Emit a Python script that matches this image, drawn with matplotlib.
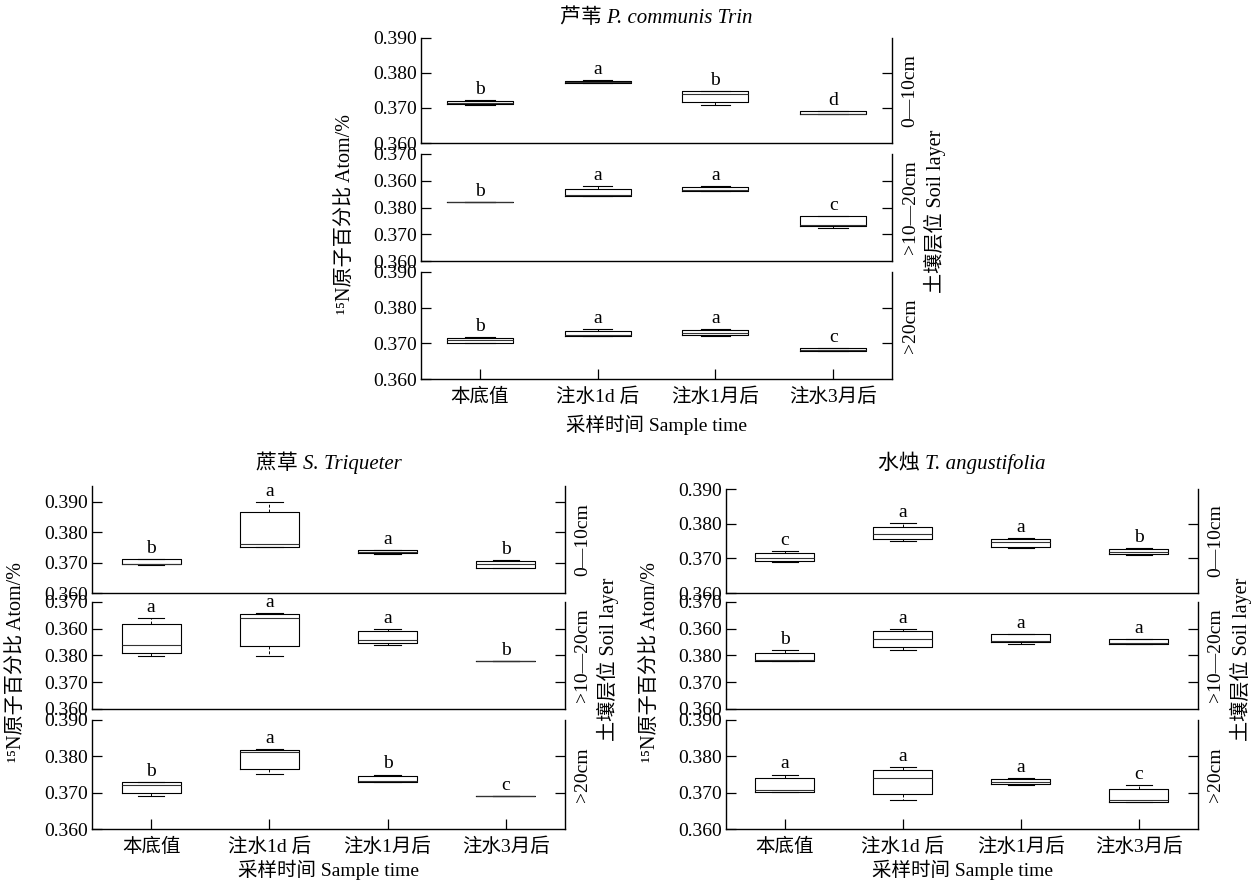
import matplotlib
matplotlib.use('Agg')
import matplotlib.pyplot as plt

plt.rcParams['font.family'] = ['Liberation Serif', 'Noto Sans CJK SC', 'DejaVu Serif']
plt.rcParams['font.size'] = 14

# ---------------- data ----------------
categories = ['本底值', '注水1d 后', '注水1月后', '注水3月后']
layers = ['0—10cm', '>10—20cm', '>20cm']
titles = ['芦苇 P. communis Trin', '蔗草 S. Triqueter', '水烛 T. angustifolia']
ylabel = '¹⁵N原子百分比 Atom/%'
xlabel = '采样时间 Sample time'
rlabel = '土壤层位 Soil layer'

# tick values / labels
ticks_3 = [0.360, 0.370, 0.380, 0.390]
ticklabels_3 = ['0.360', '0.370', '0.380', '0.390']
ticks_mid = [0.360, 0.370, 0.380, 0.390, 0.400]
ticklabels_mid = ['0.360', '0.370', '0.380', '0.360', '0.370']

# box statistics per category: (whislo, q1, median, q3, whishi)
reed_l1 = [(0.3710, 0.3712, 0.3715, 0.3720, 0.3722),
           (0.3770, 0.3771, 0.3773, 0.3777, 0.3779),
           (0.3710, 0.3718, 0.3740, 0.3748, 0.3749),
           (0.3682, 0.3682, 0.3684, 0.3691, 0.3691)]
reed_l2 = [(0.3821, 0.3821, 0.3821, 0.3821, 0.3821),
           (0.3843, 0.3843, 0.3845, 0.3871, 0.3882),
           (0.3861, 0.3861, 0.3866, 0.3878, 0.3882),
           (0.3723, 0.3731, 0.3735, 0.3768, 0.3768)]
reed_l3 = [(0.3700, 0.3701, 0.3709, 0.3716, 0.3718),
           (0.3720, 0.3720, 0.3722, 0.3735, 0.3740),
           (0.3720, 0.3722, 0.3729, 0.3737, 0.3740),
           (0.3679, 0.3679, 0.3681, 0.3687, 0.3688)]
reed_letters = [['b', 'a', 'b', 'd'], ['b', 'a', 'a', 'c'], ['b', 'a', 'a', 'c']]

sedge_l1 = [(0.3693, 0.3695, 0.3695, 0.3712, 0.3712),
            (0.3750, 0.3752, 0.3760, 0.3865, 0.3899),
            (0.3729, 0.3733, 0.3735, 0.3742, 0.3742),
            (0.3683, 0.3683, 0.3694, 0.3706, 0.3710)]
sedge_l2 = [(0.3798, 0.3808, 0.3840, 0.3916, 0.3941),
            (0.3798, 0.3835, 0.3941, 0.3956, 0.3960),
            (0.3840, 0.3845, 0.3859, 0.3890, 0.3899),
            (0.3778, 0.3778, 0.3778, 0.3778, 0.3778)]
sedge_l3 = [(0.3690, 0.3698, 0.3720, 0.3728, 0.3729),
            (0.3751, 0.3765, 0.3811, 0.3818, 0.3820),
            (0.3730, 0.3730, 0.3731, 0.3746, 0.3750),
            (0.3691, 0.3691, 0.3691, 0.3691, 0.3691)]
sedge_letters = [['b', 'a', 'a', 'b'], ['a', 'a', 'a', 'b'], ['b', 'a', 'b', 'c']]

cattail_l1 = [(0.3690, 0.3692, 0.3702, 0.3715, 0.3720),
              (0.3749, 0.3756, 0.3771, 0.3791, 0.3801),
              (0.3731, 0.3734, 0.3747, 0.3757, 0.3759),
              (0.3711, 0.3712, 0.3719, 0.3727, 0.3729)]
cattail_l2 = [(0.3780, 0.3780, 0.3782, 0.3811, 0.3820),
              (0.3820, 0.3830, 0.3860, 0.3892, 0.3899),
              (0.3842, 0.3852, 0.3853, 0.3882, 0.3882),
              (0.3842, 0.3844, 0.3847, 0.3860, 0.3860)]
cattail_l3 = [(0.3701, 0.3701, 0.3708, 0.3740, 0.3750),
              (0.3681, 0.3696, 0.3740, 0.3763, 0.3770),
              (0.3721, 0.3723, 0.3729, 0.3737, 0.3740),
              (0.3673, 0.3673, 0.3680, 0.3710, 0.3721)]
cattail_letters = [['c', 'a', 'a', 'b'], ['b', 'a', 'a', 'a'], ['a', 'a', 'a', 'c']]

# ---------------- layout ----------------
W, H = 1251, 883
fig = plt.figure(figsize=(W / 100, H / 100), dpi=100)
fig.patch.set_facecolor('white')

panels = [
    dict(x0=421, x1=892, rows=[(38, 143), (154, 261), (272, 379)],
         ylims=[(0.360, 0.390), (0.360, 0.400), (0.360, 0.390)],
         data=[reed_l1, reed_l2, reed_l3], letters=reed_letters,
         title=titles[0], title_y=18, bw=0.56, xl_off=46),
    dict(x0=92, x1=565, rows=[(486, 593), (602, 709), (720, 829)],
         ylims=[(0.360, 0.3952), (0.360, 0.400), (0.360, 0.390)],
         data=[sedge_l1, sedge_l2, sedge_l3], letters=sedge_letters,
         title=titles[1], title_y=463, bw=0.5, xl_off=41),
    dict(x0=726, x1=1198, rows=[(489, 593), (602, 709), (720, 829)],
         ylims=[(0.360, 0.390), (0.360, 0.400), (0.360, 0.390)],
         data=[cattail_l1, cattail_l2, cattail_l3], letters=cattail_letters,
         title=titles[2], title_y=463, bw=0.5, xl_off=41),
]

positions = [1, 2, 3, 4]
LC = 'black'
FS = 14
for p in panels:
    x0, x1 = p['x0'], p['x1']
    for li, ((top, bot), ylim, data, letters) in enumerate(
            zip(p['rows'], p['ylims'], p['data'], p['letters'])):
        ax = fig.add_axes([x0 / W, 1 - bot / H, (x1 - x0) / W, (bot - top) / H])
        stats = [dict(whislo=s[0], q1=s[1], med=s[2], q3=s[3], whishi=s[4], fliers=[])
                 for s in data]
        ax.bxp(stats, positions=positions, widths=p['bw'], showfliers=False,
               boxprops=dict(color=LC, lw=0.8),
               medianprops=dict(color='#333333', lw=0.8),
               whiskerprops=dict(color=LC, lw=0.7, linestyle=(0, (3, 2))),
               capprops=dict(color=LC, lw=0.8),
               capwidths=p['bw'] * 0.45)
        ax.set_xlim(0.5, 4.5)
        ax.set_ylim(*ylim)
        if li == 1:
            ax.set_yticks(ticks_mid)
            ax.set_yticklabels(ticklabels_mid)
            inner = ticks_mid[1:-1]
        else:
            ax.set_yticks(ticks_3)
            ax.set_yticklabels(ticklabels_3)
            inner = ticks_3[1:-1] if ylim[1] <= 0.3905 else ticks_3[1:]
        ax.tick_params(axis='y', direction='in', length=7, width=0.9, pad=3,
                       labelsize=FS)
        for sp in ['top', 'right']:
            ax.spines[sp].set_visible(False)
        for sp in ['left', 'bottom']:
            ax.spines[sp].set_linewidth(1.0)
            ax.spines[sp].set_color(LC)
        sec = ax.secondary_yaxis('right')
        sec.set_yticks(inner)
        sec.set_yticklabels([])
        sec.tick_params(axis='y', direction='in', length=7, width=0.9)
        sec.spines['right'].set_linewidth(1.0)
        if li == 2:
            ax.set_xticks(positions)
            ax.set_xticklabels(categories)
            ax.tick_params(axis='x', direction='in', length=7, width=0.9, pad=6,
                           labelsize=FS)
        else:
            ax.set_xticks([])
        for pos, s, let in zip(positions, data, letters):
            ax.annotate(let, xy=(pos, s[4]), xytext=(0, 2), textcoords='offset pixels',
                        ha='center', va='bottom', fontsize=FS)
        ax.annotate(layers[li], xy=(1, 0.5), xycoords='axes fraction',
                    xytext=(18, 0), textcoords='offset pixels', rotation=90,
                    ha='center', va='center', fontsize=FS)
    # panel texts
    cx = (x0 + x1) / 2
    mid_top, mid_bot = p['rows'][1]
    yc = (mid_top + mid_bot) / 2
    fig.text(cx / W, 1 - p['title_y'] / H, p['title'], ha='center', va='center',
             fontstyle='italic', fontsize=15)
    fig.text((x0 - 76) / W, 1 - (yc + 6) / H, ylabel, rotation=90, ha='center',
             va='center', fontsize=14.5)
    fig.text((x1 + 43) / W, 1 - (yc + 4) / H, rlabel, rotation=90, ha='center',
             va='center', fontsize=14.5)
    xl_y = p['rows'][2][1] + p['xl_off']
    fig.text(cx / W, 1 - xl_y / H, xlabel, ha='center', va='center', fontsize=14)

fig.savefig('out.png', dpi=100, facecolor='white')
